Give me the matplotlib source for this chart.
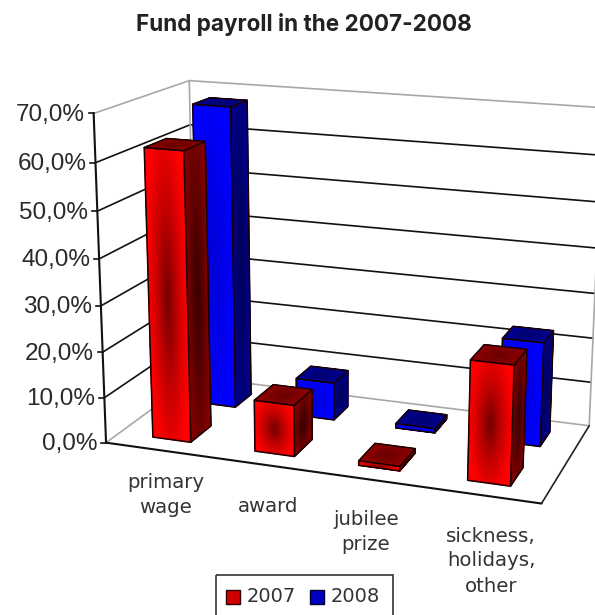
# Fund payroll column chart, drawn in perspective on a flat pixel-sized axes
import numpy as np
import matplotlib
matplotlib.use('Agg')
import matplotlib.pyplot as plt
from matplotlib.colors import LinearSegmentedColormap
from matplotlib.patches import Polygon, Rectangle

title = 'Fund payroll in the 2007-2008'
categories = ['primary\nwage', 'award', 'jubilee\nprize', 'sickness,\nholidays,\nother']
series_names = ['2007', '2008']
values_2007 = [62.5, 11.2, 1.0, 25.3]
values_2008 = [67.7, 8.5, 1.0, 22.9]
y_ticks = [0, 10, 20, 30, 40, 50, 60, 70]
y_labels = ['0,0%', '10,0%', '20,0%', '30,0%', '40,0%', '50,0%', '60,0%', '70,0%']
y_max = 70.0

# box corners (u, v, height), where they sit on the canvas, and how hard to hold them there
box_3d = [(0, 0, 0), (0, 0, 1), (0, 1, 0), (0, 1, 1), (1, 1, 0), (1, 1, 1), (1, 0, 0)]
box_px = [(107, 443), (93, 113), (192, 376), (192, 82), (591, 425), (601, 109), (540, 504)]
box_wt = [4, 4, 2, 2, 2, 1, 2]

# solve the 3x4 camera matrix
A, b = [], []
for (u, v, w), (px, py), k in zip(box_3d, box_px, box_wt):
    A.append([k * c for c in [u, v, w, 1, 0, 0, 0, 0, -px*u, -px*v, -px*w]])
    A.append([k * c for c in [0, 0, 0, 0, u, v, w, 1, -py*u, -py*v, -py*w]])
    b += [k * px, k * py]
cam = np.linalg.lstsq(np.array(A, float), np.array(b, float), rcond=None)[0]
cam = np.append(cam, 1).reshape(3, 4)


def proj(u, v, val):
    u, v, val = np.broadcast_arrays(u, v, val)
    p = np.stack([u, v, val / y_max, np.ones_like(u, dtype=float)], axis=-1) @ cam.T
    return p[..., 0] / p[..., 2], p[..., 1] / p[..., 2]


def wire(a, b, color, lw=1.2, z=2):
    xs, ys = proj(np.array([a[0], b[0]]), np.array([a[1], b[1]]), np.array([a[2], b[2]]))
    ax.plot(xs, ys, color=color, lw=lw, zorder=z, solid_capstyle='round')


def cmap(*colors):
    return LinearSegmentedColormap.from_list('', colors)


def face(Pu, Pv, Pw, cm, z):
    # Pu, Pv, Pw are fields on a (s, t) grid, shaded darkest in the middle
    n = Pu.shape[0]
    s, t = np.meshgrid(np.linspace(-1, 1, n), np.linspace(-1, 1, n))
    d = np.clip(np.sqrt(s**2 + (0.8 * t)**2), 0, 1)
    X, Y = proj(Pu, Pv, Pw)
    ax.pcolormesh(X, Y, d, cmap=cm, vmin=0, vmax=1, shading='gouraud', zorder=z)
    edge_x = [X[0, 0], X[0, -1], X[-1, -1], X[-1, 0]]
    edge_y = [Y[0, 0], Y[0, -1], Y[-1, -1], Y[-1, 0]]
    ax.add_patch(Polygon(np.c_[edge_x, edge_y], closed=True, fill=False, ec='#1a0000', lw=1.1,
                         joinstyle='round', zorder=z + 0.5))


def bar(u0, u1, v0, v1, val, cms, z):
    n = 41
    a, c = np.meshgrid(np.linspace(0, 1, n), np.linspace(0, 1, n))
    uu = u0 + (u1 - u0) * a
    vv = v0 + (v1 - v0) * a
    hh = val * c
    face(u1 + 0 * a, vv, hh, cms[1], z)                               # right side
    face(uu, v0 + 0 * a, hh, cms[0], z + 1)                           # front
    face(uu, v0 + (v1 - v0) * c, val + 0 * a, cms[2], z + 2)          # top


fig = plt.figure(figsize=(5.95, 6.15), dpi=100)
ax = fig.add_axes([0, 0, 1, 1])
ax.set_xlim(0, 595)
ax.set_ylim(615, 0)
ax.axis('off')

# walls, floor and gridlines
for t in y_ticks[1:-1]:
    wire((0, 0, t), (0, 1, t), '#111111')
    wire((0, 1, t), (1, 1, t), '#111111')
grey = '#a8a8a8'
wire((0, 0, y_max), (0, 1, y_max), grey)
wire((0, 1, y_max), (1, 1, y_max), grey)
wire((0, 1, 0), (0, 1, y_max), grey)
wire((1, 1, 0), (1, 1, y_max), grey)
wire((0, 0, 0), (0, 1, 0), grey)
wire((0, 1, 0), (1, 1, 0), grey)
wire((0, 0, 0), (1, 0, 0), '#111111', lw=1.5)
wire((1, 0, 0), (1, 1, 0), '#222222', lw=1.2)
wire((0, 0, 0), (0, 0, y_max), '#111111', lw=1.5)

for t, lab in zip(y_ticks, y_labels):
    x, y = proj(0.0, 0.0, float(t))
    ax.plot([x - 5, x], [y, y], color='#111111', lw=1.2, zorder=2)
    ax.text(x - 9, y + 1.5, lab, ha='right', va='center', fontsize=17.5,
            family='Liberation Sans', color='#2a2a2a')

# column shading: front, side, top
red = (cmap('#760000', '#c40000', '#ff0000'), cmap('#380000', '#800000'), cmap('#6a0000', '#8c0000'))
blue = (cmap('#0000d8', '#0000ff'), cmap('#00005a', '#000088'), cmap('#000070', '#000090'))

bar_w = 0.094
red_u = [0.130, 0.380, 0.624, 0.870]
blue_u = [0.133, 0.383, 0.629, 0.876]
rows = [(values_2008, blue, 0.65, 0.85, blue_u), (values_2007, red, 0.14, 0.37, red_u)]
z = 3
for vals, cms, v0, v1, centres in rows:
    for c, val in zip(centres, vals):
        bar(c - bar_w / 2, c + bar_w / 2, v0, v1, val, cms, z)
        z += 3

# category labels under the floor
label_pos = [(166, 495), (268, 506), (366, 532), (491, 561)]
for lab, (x, y) in zip(categories, label_pos):
    ax.text(x, y, lab, ha='center', va='center', fontsize=14.2, color='#333333',
            family='DejaVu Sans', linespacing=1.4, zorder=z)

ax.text(304, 24, title, ha='center', va='center', fontsize=16.2, weight='bold',
        family='Inter', color='#222222')

# legend box runs off the bottom edge of the canvas
ax.add_patch(Rectangle((216, 575), 177, 60, fill=False, ec='#333333', lw=1.2, clip_on=True, zorder=z))
swatch_x = [226, 310]
swatch_c = [('#d00000', '#300000'), ('#0000c0', '#000030')]
for name, sx, (fc, ec) in zip(series_names, swatch_x, swatch_c):
    ax.add_patch(Rectangle((sx, 590), 14, 14, fc=fc, ec=ec, lw=1, zorder=z))
    ax.text(sx + 21, 597, name, ha='left', va='center', fontsize=14, color='#333333',
            family='DejaVu Sans', zorder=z)

fig.savefig('out.png', dpi=100)
